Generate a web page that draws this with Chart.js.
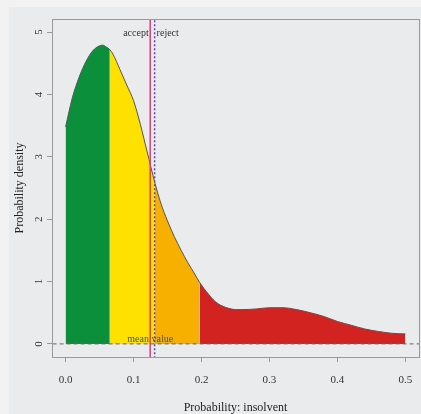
<!DOCTYPE html>
<html>
<head>
<meta charset="utf-8">
<script src="https://cdn.jsdelivr.net/npm/chart.js@4.4.1/dist/chart.umd.min.js"></script>
<style>
  html, body { margin: 0; padding: 0; background: #f2f2f2; }
  #wrap { width: 421px; height: 414px; }
</style>
</head>
<body>
<div id="wrap"><canvas id="chart" width="421" height="414"></canvas></div>
<script>
'use strict';

// density curve
var probX = [0, 0.01, 0.02, 0.03, 0.04, 0.05, 0.055, 0.06, 0.065, 0.07, 0.08, 0.09, 0.10, 0.11, 0.12,
  0.131, 0.14, 0.15, 0.16, 0.17, 0.18, 0.19, 0.197, 0.21, 0.22, 0.23, 0.24, 0.25, 0.26, 0.28,
  0.30, 0.32, 0.34, 0.36, 0.38, 0.40, 0.42, 0.44, 0.46, 0.48, 0.50];
var density = [3.48, 3.95, 4.28, 4.53, 4.70, 4.78, 4.79, 4.76, 4.72, 4.64, 4.40, 4.15, 3.90, 3.52, 3.08,
  2.60, 2.26, 1.97, 1.72, 1.50, 1.30, 1.12, 0.99, 0.80, 0.68, 0.61, 0.57, 0.55, 0.55, 0.56,
  0.58, 0.58, 0.55, 0.50, 0.44, 0.36, 0.30, 0.24, 0.20, 0.17, 0.16];

// coloured bands: green / yellow / orange / red
var bandEdges = [0, 0.065, 0.131, 0.197, 0.5];
var bandColors = ['#0b8f3b', '#ffe100', '#f8b000', '#d32320'];

var meanValue = 0.1245;
var cutoff = 0.131;

var xTicks = [0, 0.1, 0.2, 0.3, 0.4, 0.5];
var yTicks = [0, 1, 2, 3, 4, 5];

var points = probX.map(function (x, i) { return { x: x, y: density[i] }; });

var datasets = [];

// vertical marker lines
datasets.push({
  data: [{ x: meanValue, y: -1 }, { x: meanValue, y: 6 }],
  borderColor: '#f0347c', borderWidth: 1.5, pointRadius: 0, order: 1
});
datasets.push({
  data: [{ x: cutoff, y: -1 }, { x: cutoff, y: 6 }],
  borderColor: '#5b45c8', borderWidth: 1.5, borderDash: [2, 2], pointRadius: 0, order: 1
});
// dashed zero line
datasets.push({
  data: [{ x: -0.05, y: 0 }, { x: 0.55, y: 0 }],
  borderColor: '#666', borderWidth: 1, borderDash: [4, 3], pointRadius: 0, order: 2
});
// outline of the curve
datasets.push({
  data: points,
  borderColor: '#555', borderWidth: 1, pointRadius: 0,
  cubicInterpolationMode: 'monotone', order: 3
});
// filled bands
for (var b = 0; b < bandColors.length; b++) {
  var lo = bandEdges[b], hi = bandEdges[b + 1];
  datasets.push({
    data: points.filter(function (p) { return p.x >= lo - 1e-9 && p.x <= hi + 1e-9; }),
    backgroundColor: bandColors[b], borderWidth: 0, pointRadius: 0,
    fill: 'origin', cubicInterpolationMode: 'monotone', order: 5
  });
}

var frame = {
  id: 'frame',
  beforeDraw: function (chart) {
    var c = chart.ctx;
    c.save();
    c.fillStyle = '#f2f2f2';
    c.fillRect(0, 0, chart.width, chart.height);
    c.fillStyle = '#e9ebec';
    c.fillRect(9, 7, chart.width - 9, chart.height - 7);
    c.restore();
  },
  afterDraw: function (chart) {
    var c = chart.ctx, a = chart.chartArea;
    c.save();
    c.strokeStyle = '#9a9a9a';
    c.lineWidth = 1;
    c.strokeRect(a.left + 0.5, a.top + 0.5, a.right - a.left, a.bottom - a.top);
    c.restore();
  }
};

var labels = {
  id: 'labels',
  afterDatasetsDraw: function (chart) {
    var c = chart.ctx, xs = chart.scales.x, ys = chart.scales.y;
    var xm = xs.getPixelForValue(meanValue), xc = xs.getPixelForValue(cutoff);
    c.save();
    c.font = '10px "Liberation Serif", "DejaVu Serif", serif';
    c.textBaseline = 'middle';
    c.fillStyle = '#333';
    c.textAlign = 'right';
    c.fillText('accept', xm - 1.5, ys.getPixelForValue(4.98));
    c.textAlign = 'left';
    c.fillText('reject', xc + 2, ys.getPixelForValue(4.98));
    c.fillStyle = '#5a5538';
    c.textAlign = 'center';
    c.fillText('mean value', xm, ys.getPixelForValue(0.08));
    c.restore();
  }
};

var serif = '"Liberation Serif", "DejaVu Serif", serif';

var ctx = document.getElementById('chart').getContext('2d');
var chart = new Chart(ctx, {
  type: 'scatter',
  data: { datasets: datasets },
  options: {
    responsive: false,
    devicePixelRatio: 1,
    animation: false,
    showLine: true,
    layout: { padding: { left: 0, top: 19, right: 2, bottom: 0 } },
    plugins: { legend: { display: false }, tooltip: { enabled: false } },
    scales: {
      x: {
        type: 'linear', min: -0.02, max: 0.52,
        afterBuildTicks: function (scale) { scale.ticks = xTicks.map(function (v) { return { value: v }; }); },
        afterFit: function (scale) {
          scale.height = 57;
          scale.paddingLeft = 0;
          scale.paddingRight = 0;
        },
        ticks: {
          padding: 12, color: '#333', font: { family: serif, size: 11 },
          callback: function (v) { return v.toFixed(1); }
        },
        grid: { drawOnChartArea: false, drawTicks: true, tickLength: 5, color: '#999' },
        border: { display: false },
        title: {
          display: true, text: 'Probability: insolvent', color: '#222',
          font: { family: serif, size: 12, lineHeight: 1.1 }, padding: 0
        }
      },
      y: {
        type: 'linear', min: -0.21, max: 5.21,
        afterBuildTicks: function (scale) { scale.ticks = yTicks.map(function (v) { return { value: v }; }); },
        afterFit: function (scale) {
          scale.width = 52;
          scale.paddingTop = 0;
          scale.paddingBottom = 0;
        },
        ticks: {
          minRotation: 90, maxRotation: 90, crossAlign: 'center', padding: 5,
          color: '#333', font: { family: serif, size: 11 },
          callback: function (v) { return String(v); }
        },
        grid: { drawOnChartArea: false, drawTicks: true, tickLength: 5, color: '#999' },
        border: { display: false },
        title: {
          display: true, text: 'Probability density', color: '#222',
          font: { family: serif, size: 12 }, padding: { top: 13, bottom: 0 }
        }
      }
    }
  },
  plugins: [frame, labels]
});
</script>
</body>
</html>
